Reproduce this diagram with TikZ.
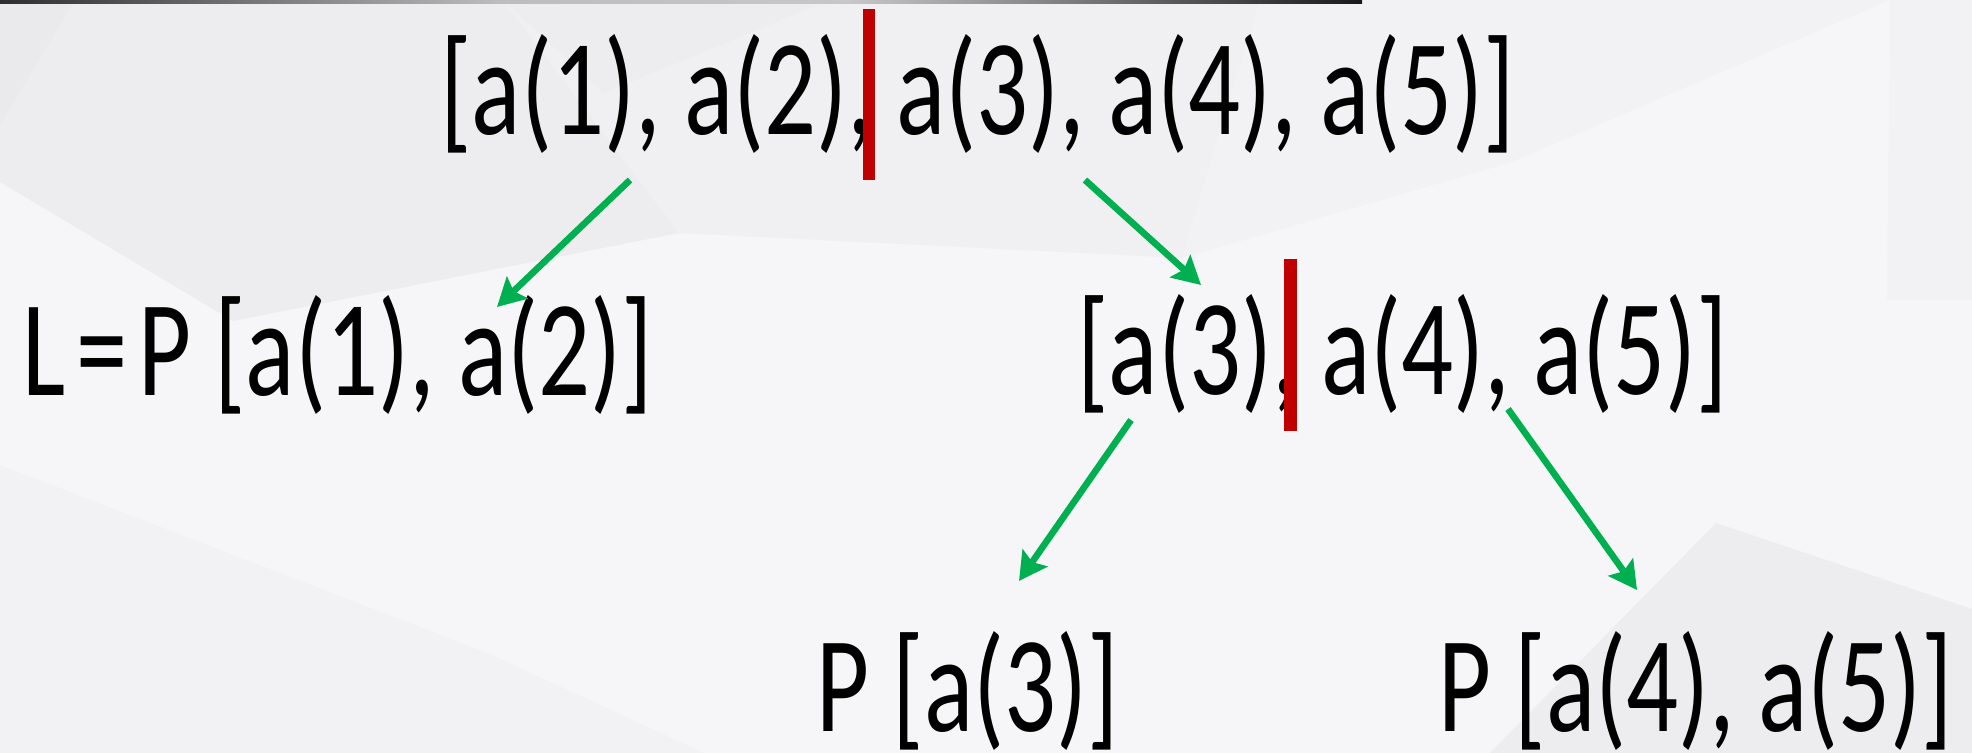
\documentclass[tikz,border=0pt]{standalone}
\usepackage{fontspec}
\usepackage{graphicx}
\setmainfont{Carlito}
\usetikzlibrary{arrows.meta}
\definecolor{bgbase}{HTML}{F6F5F7}
\definecolor{polyA}{HTML}{EDEDEF}
\definecolor{polyB}{HTML}{F0EFF1}
\definecolor{polyC}{HTML}{F2F1F3}
\definecolor{polyD}{HTML}{EAEAEC}
\definecolor{arrowgreen}{HTML}{00B050}
\definecolor{cutred}{HTML}{C00000}
\newcommand{\sqz}[1]{\scalebox{0.9}[1.2]{#1}}
\newcommand{\eqsign}{\kern6pt=\kern6pt}
\tikzset{
  txt/.style={inner sep=0pt, anchor=base west, text=black, font=\fontsize{57}{60}\selectfont},
  splitarrow/.style={draw=arrowgreen, line width=3.3pt, -{Stealth[length=14pt, width=15pt, inset=2.5pt]}},
  cutbar/.style={fill=cutred}
}
\begin{document}
\begin{tikzpicture}[x=0.5pt, y=-0.5pt]
% background
\fill[bgbase] (0,0) rectangle (1972,753);
\useasboundingbox (0,0) rectangle (1972,753);
\fill[polyD] (0,0) -- (75,0) -- (0,126) -- cycle;
\fill[polyA] (75,0) -- (503,0) -- (679,233) -- (233,321) -- (0,182) -- (0,126) -- cycle;
\fill[polyB] (503,0) -- (1260,0) -- (1182,258) -- (679,233) -- cycle;
\fill[polyA] (503,0) -- (830,0) -- (604,93) -- cycle;
\fill[polyC] (1260,0) -- (1890,0) -- (1509,163) -- (1182,258) -- cycle;
\fill[polyC] (1890,0) -- (1972,0) -- (1972,300) -- (1887,300) -- cycle;
\fill[polyC] (0,465) -- (490,654) -- (704,753) -- (0,753) -- cycle;
\fill[polyA] (1490,753) -- (1716,523) -- (1972,609) -- (1972,753) -- cycle;
% top bar
\shade[left color=black!82, right color=black!26] (0,0) rectangle (500,4);
\shade[left color=black!26, right color=black!22] (500,0) rectangle (850,4);
\shade[left color=black!22, right color=black!90] (850,0) rectangle (1362,4);
% texts
\node[txt] (top) at (440,135) {\sqz{[a(1), a(2), a(3), a(4), a(5)]}};
\node[txt] (left) at (22,396) {\sqz{L\eqsign P [a(1), a(2)]}};
\node[txt] (mid) at (1077,395) {\sqz{[a(3), a(4), a(5)]}};
\node[txt] (bl) at (816,731) {\sqz{P [a(3)]}};
\node[txt] (br) at (1438,731) {\sqz{P [a(4), a(5)]}};
% split markers
\fill[cutbar] (863,9) rectangle (875,180);
\fill[cutbar] (1284,259) rectangle (1297,431);
% connector endpoints
\coordinate (a1s) at (630,180);
\coordinate (a1e) at (497,307);
\coordinate (a2s) at (1085,180);
\coordinate (a2e) at (1201,285);
\coordinate (a3s) at (1131,420);
\coordinate (a3e) at (1019,581);
\coordinate (a4s) at (1508,409);
\coordinate (a4e) at (1637,590);
\draw[splitarrow] (a1s) -- (a1e);
\draw[splitarrow] (a2s) -- (a2e);
\draw[splitarrow] (a3s) -- (a3e);
\draw[splitarrow] (a4s) -- (a4e);
\end{tikzpicture}
\end{document}
